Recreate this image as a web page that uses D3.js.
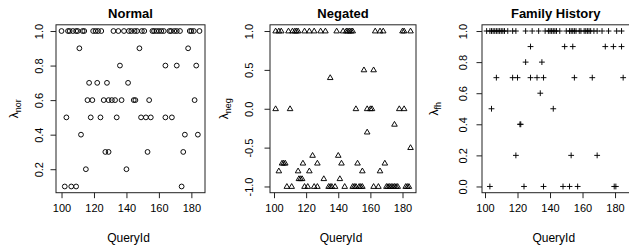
<!DOCTYPE html>
<html>
<head>
<meta charset="utf-8">
<script src="https://cdn.jsdelivr.net/npm/d3@7"></script>
<style>
  body { margin: 0; background: #fff; }
  svg { display: block; font-family: "Liberation Sans", Arial, sans-serif; }
</style>
</head>
<body>
<svg id="chart" width="629" height="249"></svg>
<script>
// DATA (grouped by lambda level)
const normalRows = [
  [1.0, [100, 104, 105, 107, 109, 110, 113, 114, 119.5, 121, 122.5, 124.5, 132, 135, 138.5, 141.5, 143, 145, 146.5, 149.5, 151, 156, 157, 158.5, 160, 161.5, 163, 166.5, 167.5, 169.5, 171, 173, 179, 180, 181.5, 185]],
  [0.9, [111, 148, 178]],
  [0.8, [136, 164, 171, 183]],
  [0.7, [117, 122, 128, 141]],
  [0.6, [116, 119, 126, 129, 131, 133, 137, 144.5, 145.5, 154, 182]],
  [0.5, [103, 118, 124, 134, 149, 152, 155, 164, 168]],
  [0.4, [112, 176, 184]],
  [0.3, [127, 129, 153, 175]],
  [0.2, [115, 140]],
  [0.1, [102, 106, 109, 174]]
];

const negatedRows = [
  [1.0, [101, 103, 104.5, 109, 111.5, 113, 114, 115, 119, 122, 125, 129, 132, 139, 143, 145, 146, 147, 148, 149, 163, 166, 168, 180, 181, 185]],
  [0.5, [156, 162]],
  [0.4, [135]],
  [0.0, [101, 110, 151, 158, 160, 161, 178, 181]],
  [-0.2, [175]],
  [-0.3, [158]],
  [-0.5, [185]],
  [-0.6, [124, 140]],
  [-0.7, [105, 106, 107, 118, 127, 142, 152, 169]],
  [-0.8, [103, 115, 122, 155, 166]],
  [-0.9, [115.5, 116.5, 117.5, 131, 141]],
  [-1.0, [108, 111, 119, 121, 125, 127, 134, 135, 136, 138, 144, 149, 150, 151, 153, 154, 155, 162, 165, 170, 171, 172, 173, 174, 175, 176, 177, 182, 183, 184]]
];

const familyRows = [
  [1.0, [101, 103, 104, 105, 106, 107, 108, 109, 110, 111, 112, 114, 117, 119, 125, 129, 133, 137, 139, 140, 141, 142, 143, 144, 146, 150, 152, 153, 154, 155, 156, 158, 159, 161, 162, 163, 164, 165, 167, 169, 172, 176, 181, 184]],
  [0.9, [128, 149, 154, 174, 179, 184]],
  [0.8, [125, 135]],
  [0.7, [107, 117, 120, 128, 132, 136, 155, 166, 185]],
  [0.6, [134]],
  [0.5, [104, 142]],
  [0.4, [121.5, 122]],
  [0.2, [119, 153, 169]],
  [0.0, [103, 124, 136, 148, 152, 157, 179.5, 180.5]]
];

const xTicks = [100, 120, 140, 160, 180];
const normalTicks = [0.2, 0.4, 0.6, 0.8, 1.0];
const negatedTicks = [-1.0, -0.5, 0.0, 0.5, 1.0];
const familyTicks = [0.0, 0.2, 0.4, 0.6, 0.8, 1.0];

// HELPERS
function flatten(rows) {
  let pts = [];
  for (let [lam, ids] of rows) {
    for (let q of ids) pts.push({q: q, lam: lam});
  }
  return pts;
}

// R-like tick label: one decimal, plain hyphen for minus
const fmt = d => d3.format(".1f")(d).replace("\u2212", "-");

const circlePath = "M2.4,0A2.4,2.4 0 1,1 -2.4,0A2.4,2.4 0 1,1 2.4,0Z";
const trianglePath = "M0,-2.9L2.8,1.9L-2.8,1.9Z";
const plusPath = "M-2.9,0H2.9M0,-2.9V2.9";

const panels = [
  {title: "Normal", rows: normalRows, ticks: normalTicks, shape: circlePath, sub: "nor",
   boxL: 56, boxR: 205, xDom: [96.6, 188.4], yDom: [0.064, 1.036], tickX: 42.5, labX: 18},
  {title: "Negated", rows: negatedRows, ticks: negatedTicks, shape: trianglePath, sub: "neg",
   boxL: 270, boxR: 416, xDom: [97.5, 188.4], yDom: [-1.08, 1.08], tickX: 252.5, labX: 228},
  {title: "Family History", rows: familyRows, ticks: familyTicks, shape: plusPath, sub: "fh",
   boxL: 482, boxR: 629.5, xDom: [98.15, 188.9], yDom: [-0.04, 1.04], tickX: 467, labX: 438}
];

const boxTop = 24.8, boxBottom = 192.7;
const svg = d3.select("#chart");

for (let p of panels) {
  const x = d3.scaleLinear().domain(p.xDom).range([p.boxL, p.boxR]);
  const y = d3.scaleLinear().domain(p.yDom).range([boxBottom, boxTop]);
  const g = svg.append("g");

  // points
  g.selectAll(".pt")
    .data(flatten(p.rows))
    .enter().append("path")
      .attr("class", "pt")
      .attr("transform", d => `translate(${x(d.q)},${y(d.lam)})`)
      .attr("d", p.shape)
      .style("fill", "none")
      .style("stroke", "#000")
      .style("stroke-width", 0.95);

  // box
  g.append("rect")
    .attr("x", p.boxL).attr("y", boxTop)
    .attr("width", p.boxR - p.boxL).attr("height", boxBottom - boxTop)
    .style("fill", "none").style("stroke", "#222").style("stroke-width", 1);

  // x axis
  const xa = g.append("g").attr("transform", `translate(0,${boxBottom})`)
    .call(d3.axisBottom(x).tickValues(xTicks).tickSize(5.5).tickPadding(6).tickFormat(d3.format("d")));
  xa.select(".domain").remove();
  xa.selectAll("line").style("stroke", "#222");
  xa.selectAll("text").attr("font-size", 11).attr("fill", "#000").attr("font-family", null);

  // y axis (rotated tick labels like R)
  const ya = g.append("g").attr("transform", `translate(${p.boxL},0)`)
    .call(d3.axisLeft(y).tickValues(p.ticks).tickSize(5.5).tickFormat(fmt));
  ya.select(".domain").remove();
  ya.selectAll("line").style("stroke", "#222");
  ya.selectAll("text")
    .attr("x", null).attr("dy", null)
    .attr("text-anchor", "middle")
    .attr("font-size", 11).attr("fill", "#000").attr("font-family", null)
    .attr("transform", `translate(${p.tickX - p.boxL},0) rotate(-90)`);

  // title
  g.append("text")
    .attr("x", (p.boxL + p.boxR) / 2)
    .attr("y", 18)
    .attr("text-anchor", "middle")
    .attr("font-size", 13).attr("font-weight", "bold")
    .text(p.title);

  // x label
  g.append("text")
    .attr("x", (p.boxL + p.boxR) / 2 - 2)
    .attr("y", 242)
    .attr("text-anchor", "middle")
    .attr("font-size", 12)
    .text("QueryId");

  // y label lambda with subscript
  const yl = g.append("text")
    .attr("transform", `translate(${p.labX},${(boxTop + boxBottom) / 2}) rotate(-90)`)
    .attr("text-anchor", "middle")
    .attr("font-size", 12);
  yl.append("tspan").text("\u03bb");
  yl.append("tspan").attr("font-size", 9).attr("dy", 2.5).text(p.sub);
}
</script>
</body>
</html>
